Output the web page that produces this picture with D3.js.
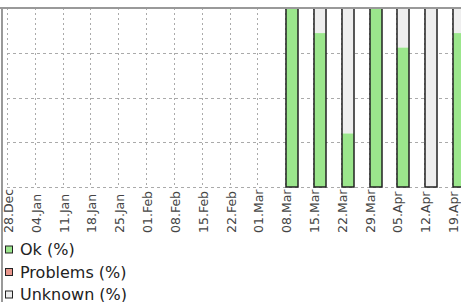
<!DOCTYPE html>
<html>
<head>
<meta charset="utf-8">
<script src="https://cdn.jsdelivr.net/npm/d3@7"></script>
<style>
	body { margin: 0; background: #fff; overflow: hidden; }
	svg { display: block; font-family: "DejaVu Sans", sans-serif; }
</style>
</head>
<body>
<script>

// week labels on the x axis
var weeks = ["28.Dec", "04.Jan", "11.Jan", "18.Jan", "25.Jan", "01.Feb", "08.Feb", "15.Feb",
	"22.Feb", "01.Mar", "08.Mar", "15.Mar", "22.Mar", "29.Mar", "05.Apr", "12.Apr", "19.Apr"];

// weeks that have data
var barWeeks = ["08.Mar", "15.Mar", "22.Mar", "29.Mar", "05.Apr", "12.Apr", "19.Apr"];
var okValues = [100, 86, 30, 100, 78, 0, 86];
var problemValues = [0, 0, 0, 0, 0, 0, 0];
var unknownValues = [0, 14, 70, 0, 22, 100, 14];

var yTicks = [0, 25, 50, 75, 100];
var legendNames = ["Ok (%)", "Problems (%)", "Unknown (%)"];
var legendColors = ["#9be68c", "#e8968c", "#eeeeee"];

window.onload = function() {
	drawChart();
};

function drawChart() {
	var width = 461;
	var height = 302;

	var svg = d3.select("body")
		.append("svg")
		.attr("width", width)
		.attr("height", height);

	// x positions of the weeks
	var xScale = d3.scalePoint()
		.domain(weeks)
		.range([7, 452]);

	var yScale = d3.scaleLinear()
		.domain([0, 100])
		.range([187, 8]);

	var barWidth = 12;

	// horizontal grid
	svg.append("g")
		.selectAll("line")
		.data(yTicks)
		.enter()
		.append("line")
		.attr("x1", 7)
		.attr("x2", width)
		.attr("y1", function(d){ return Math.round(yScale(d)) + 0.5; })
		.attr("y2", function(d){ return Math.round(yScale(d)) + 0.5; })
		.style("stroke", "#aaaaaa")
		.style("stroke-dasharray", "3,3");

	// vertical grid
	svg.append("g")
		.selectAll("line")
		.data(weeks)
		.enter()
		.append("line")
		.attr("x1", function(d){ return Math.round(xScale(d)) + 0.5; })
		.attr("x2", function(d){ return Math.round(xScale(d)) + 0.5; })
		.attr("y1", 8)
		.attr("y2", 187)
		.style("stroke", "#aaaaaa")
		.style("stroke-dasharray", "2,3");

	// stacked bars: ok, problems, unknown
	var rows = barWeeks.map(function(w, i){
		return {week: w, ok: okValues[i], problems: problemValues[i], unknown: unknownValues[i]};
	});
	var stack = d3.stack().keys(["ok", "problems", "unknown"])(rows);

	var bars = svg.append("g");
	stack.forEach(function(layer, k){
		bars.selectAll(".layer" + k)
			.data(layer)
			.enter()
			.append("rect")
			.attr("class", "layer" + k)
			.attr("x", function(d){ return Math.round(xScale(d.data.week)) + 1; })
			.attr("width", barWidth)
			.attr("y", function(d){ return yScale(d[1]); })
			.attr("height", function(d){ return yScale(d[0]) - yScale(d[1]); })
			.style("fill", legendColors[k]);
	});

	// outline round each bar
	bars.selectAll(".outline")
		.data(barWeeks)
		.enter()
		.append("rect")
		.attr("class", "outline")
		.attr("x", function(d){ return Math.round(xScale(d)) + 1; })
		.attr("width", barWidth)
		.attr("y", yScale(100))
		.attr("height", yScale(0) - yScale(100))
		.style("fill", "none")
		.style("stroke", "#222")
		.style("stroke-width", 1.5);

	// x labels, read bottom to top
	svg.append("g")
		.selectAll("text")
		.data(weeks)
		.enter()
		.append("text")
		.attr("transform", function(d){
			return "translate(" + xScale(d) + ",233) rotate(-90)";
		})
		.attr("dy", "6")
		.style("text-anchor", "start")
		.style("font-size", "12.5px")
		.style("fill", "#444")
		.text(function(d){ return d; });

	// frame on top and left
	svg.append("line")
		.attr("x1", 0).attr("x2", width)
		.attr("y1", 8).attr("y2", 8)
		.style("stroke", "#999")
		.style("stroke-width", 2);
	svg.append("line")
		.attr("x1", 2).attr("x2", 2)
		.attr("y1", 7).attr("y2", height)
		.style("stroke", "#999")
		.style("stroke-width", 2);

	// legend
	var legend = svg.append("g")
		.selectAll("g")
		.data(legendNames)
		.enter()
		.append("g")
		.attr("transform", function(d, i){ return "translate(5," + (249.5 + i * 22.5) + ")"; });

	legend.append("rect")
		.attr("x", 0.5)
		.attr("y", -3.5)
		.attr("width", 7)
		.attr("height", 7)
		.style("fill", function(d, i){ return legendColors[i]; })
		.style("stroke", "#222");

	legend.append("text")
		.attr("x", 15)
		.attr("y", 0)
		.attr("dy", "0.36em")
		.style("font-size", "16px")
		.style("fill", "#222")
		.text(function(d){ return d; });
}
</script>
</body>
</html>
